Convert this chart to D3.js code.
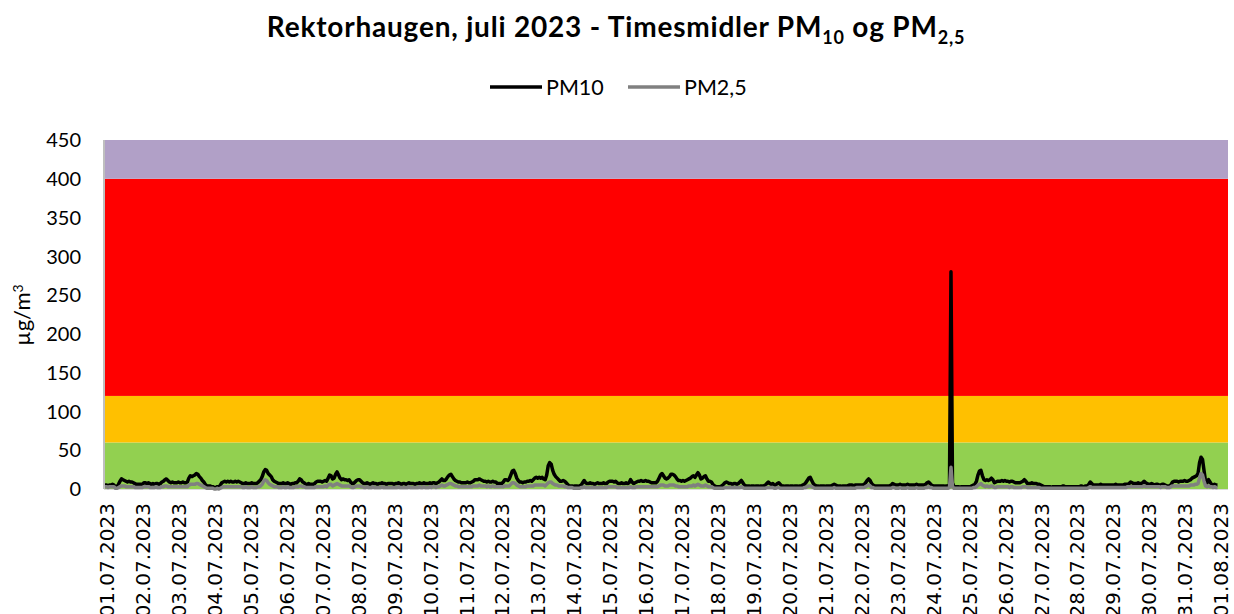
<!doctype html>
<html lang="no">
<head>
<meta charset="utf-8">
<script src="https://d3js.org/d3.v7.min.js"></script>
<title>Rektorhaugen juli 2023</title>
<style>
  body { margin: 0; background: #fff; }
  text { fill: #000; }
</style>
</head>
<body>
<svg id="chart" width="1234" height="614"></svg>
<script>
// dato-etiketter langs x-aksen (en per dogn)
var dayLabels = ["01.07.2023","02.07.2023","03.07.2023","04.07.2023","05.07.2023","06.07.2023","07.07.2023","08.07.2023",
  "09.07.2023","10.07.2023","11.07.2023","12.07.2023","13.07.2023","14.07.2023","15.07.2023","16.07.2023",
  "17.07.2023","18.07.2023","19.07.2023","20.07.2023","21.07.2023","22.07.2023","23.07.2023","24.07.2023",
  "25.07.2023","26.07.2023","27.07.2023","28.07.2023","29.07.2023","30.07.2023","31.07.2023","01.08.2023"];

var yTicks = [0,50,100,150,200,250,300,350,400,450];

// luftkvalitetsklasser (grenser og farger)
var bandLimits = [0,60,120,400,450];
var bandColors = ["#92D050","#FFC000","#FF0000","#B1A0C7"];

// timesmidler PM10, en rad per dogn (24 timer)
var pm10Days = [
  [5,5,4,5,5,6,5,3,3,6,10,13,12,11,10,9,10,9,9,8,7,6,6,6],
  [6,6,8,8,7,8,7,6,7,6,7,7,6,7,9,10,12,13,11,9,8,9,8,8],
  [8,9,8,8,9,8,8,9,14,17,16,17,18,20,19,16,14,11,9,6,4,4,4,3],
  [3,2,2,3,2,5,8,9,10,9,10,9,10,9,9,10,9,10,9,8,7,7,8,7],
  [7,7,8,7,7,7,8,10,12,16,22,25,24,20,18,16,12,10,9,8,7,7,7,8],
  [7,7,8,7,6,7,7,8,8,10,13,12,9,8,6,6,7,6,6,6,7,9,10,10],
  [10,9,10,11,10,14,18,17,13,14,19,22,18,14,12,13,12,12,11,12,9,7,7,9],
  [11,12,12,10,8,7,7,8,7,6,7,8,7,7,6,7,7,8,7,7,6,7,7,7],
  [7,6,7,7,8,7,6,7,7,6,7,8,7,7,7,6,7,7,8,7,7,8,7,7],
  [7,8,7,8,8,7,8,9,11,13,11,11,13,16,18,19,16,13,11,10,9,9,8,8],
  [8,8,9,8,8,9,10,12,12,12,13,12,11,10,10,9,10,9,9,10,9,9,7,7],
  [7,7,9,12,12,11,13,18,23,24,20,14,11,9,9,8,9,9,10,10,11,10,12,14],
  [15,14,15,14,15,13,12,18,30,34,32,24,19,16,14,12,10,10,11,10,8,6,4,4],
  [4,3,4,4,3,4,5,8,11,8,7,7,8,7,7,6,7,8,7,7,7,8,7,7],
  [9,10,10,10,9,10,8,7,7,8,7,7,8,7,8,12,9,7,8,9,10,10,11,10],
  [10,11,10,10,9,8,8,8,8,10,14,18,20,17,14,13,14,16,19,19,18,16,13,11],
  [11,10,11,10,11,12,13,14,16,17,15,18,21,18,13,14,16,17,13,10,10,9,6,4],
  [3,3,3,3,4,6,8,9,8,7,7,6,7,7,6,7,9,11,8,5,4,4,4,3],
  [4,4,3,4,4,3,4,4,4,5,7,9,7,6,7,5,5,7,8,6,4,4,3,4],
  [4,3,4,4,3,4,4,3,4,4,5,6,8,11,14,15,11,7,5,4,4,3,4,4],
  [4,3,4,4,4,4,5,6,5,4,4,4,3,4,4,4,4,5,5,5,4,5,5,5],
  [5,5,5,6,8,11,13,11,7,5,4,4,4,4,4,4,4,4,4,4,4,5,7,6],
  [5,5,5,6,5,5,5,5,6,5,5,5,5,5,6,5,5,5,5,5,6,8,9,7],
  [5,4,4,4,4,4,4,4,4,3,4,4,5,280,8,3,3,3,3,2,3,3,3,3],
  [3,3,3,4,5,6,10,18,23,24,17,12,11,12,11,12,14,12,8,9,10,10,10,11],
  [10,11,10,10,9,10,10,9,8,8,8,8,9,10,12,10,7,7,7,8,7,7,7,6],
  [6,5,4,3,3,3,3,3,2,3,3,3,3,3,3,3,4,3,3,3,3,3,3,3],
  [3,3,3,3,4,3,3,4,4,6,9,7,5,5,5,5,5,6,5,5,5,5,5,5],
  [5,5,5,6,5,5,5,5,5,6,6,6,7,9,8,7,7,7,8,7,7,8,10,8],
  [7,6,6,7,6,5,6,6,5,5,6,6,5,4,4,3,6,9,10,10,10,9,10,10],
  [10,11,10,10,11,12,14,15,16,17,20,34,41,38,24,10,8,12,9,6,5,6,5,5]
];

// timesmidler PM2,5
var pm25Days = [
  [3,3,2,3,3,3,3,1,1,2,3,4,4,4,3,3,3,3,3,3,2,2,2,2],
  [2,2,3,3,3,3,2,2,2,2,3,2,2,2,3,3,4,4,3,3,3,3,3,3],
  [3,3,3,3,3,3,3,3,5,6,6,6,6,7,7,6,5,4,3,2,1,1,1,1],
  [1,0,0,1,0,1,2,3,3,3,3,3,3,3,3,3,3,3,3,3,2,2,3,2],
  [2,2,3,2,2,2,3,3,4,6,10,12,11,8,6,5,4,3,3,3,2,2,2,3],
  [2,2,3,2,2,2,2,3,3,3,4,4,3,3,2,2,2,2,2,2,2,3,3,3],
  [3,3,3,4,3,5,6,6,4,5,6,7,6,5,4,4,4,4,4,4,3,2,2,3],
  [4,4,4,3,3,2,2,3,2,2,2,3,2,2,2,2,2,3,2,2,2,2,2,2],
  [2,2,2,2,3,2,2,2,2,2,2,3,2,2,2,2,2,2,3,2,2,3,2,2],
  [2,3,2,3,3,2,3,3,4,5,4,4,5,6,7,7,6,5,4,4,3,3,3,3],
  [3,3,3,3,3,3,4,4,4,4,5,4,4,4,4,3,4,3,3,4,3,3,3,3],
  [3,3,3,4,4,4,4,6,8,8,7,5,4,3,3,3,3,3,4,4,4,4,4,5],
  [5,5,5,5,5,5,4,6,8,9,9,7,6,5,5,4,4,4,4,3,3,2,2,2],
  [2,1,1,1,1,1,2,2,3,2,2,2,2,2,2,2,2,2,2,2,2,2,2,2],
  [3,3,3,3,3,3,2,2,2,2,2,2,2,2,2,3,2,2,2,3,3,3,3,3],
  [3,3,3,3,3,3,3,3,3,3,4,5,5,5,4,4,4,5,5,5,5,4,4,3],
  [3,3,3,3,3,3,4,4,4,5,4,5,6,5,4,4,4,5,4,3,3,3,2,1],
  [1,1,1,1,1,1,2,2,2,2,2,2,2,2,2,2,2,3,2,1,1,1,1,1],
  [1,1,1,1,1,1,1,1,1,1,2,2,2,2,2,1,1,2,2,1,1,1,1,1],
  [1,1,1,1,1,1,1,1,1,1,1,2,2,3,4,4,3,2,1,1,1,1,1,1],
  [1,1,1,1,1,1,1,2,1,1,1,1,1,1,1,1,1,1,1,1,1,1,2,2],
  [2,2,2,2,3,4,5,4,2,2,1,1,1,1,1,1,1,1,1,1,1,1,2,2],
  [1,1,1,2,1,1,1,1,2,1,1,1,1,1,2,1,1,1,1,1,2,2,3,2],
  [2,1,1,1,1,1,1,1,1,1,1,1,2,28,3,1,1,1,1,1,1,1,1,1],
  [1,1,1,1,2,2,3,5,6,7,5,4,3,4,3,3,4,3,2,2,3,3,3,3],
  [3,3,3,3,2,3,3,2,2,2,2,2,2,3,3,3,2,2,2,2,2,2,2,2],
  [2,1,1,1,1,1,1,1,1,1,1,1,1,1,1,1,1,1,1,1,1,1,1,1],
  [1,1,1,1,1,1,1,1,1,2,3,2,2,2,2,2,2,2,2,2,2,2,2,2],
  [2,2,2,2,2,2,2,2,2,2,2,3,3,3,3,3,3,3,3,3,3,3,4,3],
  [3,3,3,3,3,3,3,3,3,2,3,3,3,2,2,2,3,4,4,4,4,4,4,4],
  [4,4,4,4,4,5,5,5,6,6,7,14,20,18,10,4,3,4,3,3,2,3,2,2]
];

var pm10 = d3.merge(pm10Days);
var pm25 = d3.merge(pm25Days);

var svg = d3.select("#chart");
var plotLeft = 104, plotRight = 1228, plotTop = 140, plotBottom = 489;

var x = d3.scaleLinear().domain([0, 744]).range([105, 1219]);
var y = d3.scaleLinear().domain([0, 450]).range([plotBottom, plotTop]);

// fargebelter
svg.append("g").selectAll("rect")
  .data(bandColors)
  .enter().append("rect")
  .attr("x", plotLeft)
  .attr("width", plotRight - plotLeft)
  .attr("y", function(d, i) { return y(bandLimits[i+1]); })
  .attr("height", function(d, i) { return y(bandLimits[i]) - y(bandLimits[i+1]); })
  .attr("fill", function(d) { return d; });

// akselinjer
svg.append("line").attr("x1", plotLeft).attr("x2", plotLeft).attr("y1", plotTop).attr("y2", plotBottom)
  .attr("stroke", "#BFBFBF").attr("stroke-width", 2);
svg.append("line").attr("x1", plotLeft).attr("x2", plotRight).attr("y1", plotBottom + 0.5).attr("y2", plotBottom + 0.5)
  .attr("stroke", "#D9D9D9").attr("stroke-width", 1);

// y-akse
svg.append("g").selectAll("text")
  .data(yTicks)
  .enter().append("text")
  .attr("x", 81)
  .attr("y", function(d) { return y(d); })
  .attr("dy", "0.36em")
  .attr("text-anchor", "end")
  .style("font-family", "Lato, 'Open Sans', sans-serif")
  .style("font-size", "20px")
  .text(function(d) { return d; });

var ylab = svg.append("text")
  .attr("transform", "translate(30,315) rotate(-90)")
  .attr("text-anchor", "middle")
  .style("font-family", "Lato, 'Open Sans', sans-serif")
  .style("font-size", "22px");
ylab.append("tspan").text("µg/m");
ylab.append("tspan").attr("dy", "-0.5em").style("font-size", "14px").text("3");

// x-akse, roterte datoer (kuttes nederst som i originalen)
svg.append("g").selectAll("text")
  .data(dayLabels)
  .enter().append("text")
  .attr("transform", function(d, i) { return "translate(" + (x(i*24) + 2) + ",503) rotate(-90)"; })
  .attr("text-anchor", "end")
  .attr("dy", "0.36em")
  .style("font-family", "'DejaVu Sans', Verdana, sans-serif")
  .style("font-size", "20px")
  .text(function(d) { return d; });

// linjer
var line = d3.line()
  .x(function(d, i) { return x(i); })
  .y(function(d) { return y(d); });

svg.append("path").datum(pm10)
  .attr("d", line).attr("fill", "none")
  .attr("stroke", "#000").attr("stroke-width", 3.5).attr("stroke-linejoin", "round");
svg.append("path").datum(pm25)
  .attr("d", line).attr("fill", "none")
  .attr("stroke", "#808080").attr("stroke-width", 3.5).attr("stroke-linejoin", "round");

// tittel
var title = svg.append("text")
  .attr("x", 616).attr("y", 37)
  .attr("text-anchor", "middle")
  .style("font-family", "Lato, 'Open Sans', sans-serif")
  .style("font-weight", "bold")
  .style("font-size", "28px")
  .style("letter-spacing", "0.8px");
title.append("tspan").text("Rektorhaugen, juli 2023 - Timesmidler PM");
title.append("tspan").attr("dy", 7).style("font-size", "18px").text("10");
title.append("tspan").attr("dy", -7).text(" og PM");
title.append("tspan").attr("dy", 7).style("font-size", "18px").text("2,5");

// tegnforklaring
var legendItems = [
  {name: "PM10", color: "#000", x: 490},
  {name: "PM2,5", color: "#808080", x: 628}
];
var leg = svg.append("g").selectAll("g").data(legendItems).enter().append("g");
leg.append("line")
  .attr("x1", function(d) { return d.x; }).attr("x2", function(d) { return d.x + 52; })
  .attr("y1", 87).attr("y2", 87)
  .attr("stroke", function(d) { return d.color; }).attr("stroke-width", 3.5);
leg.append("text")
  .attr("x", function(d) { return d.x + 56; }).attr("y", 87).attr("dy", "0.36em")
  .style("font-family", "Lato, 'Open Sans', sans-serif")
  .style("font-size", "21.5px")
  .text(function(d) { return d.name; });
</script>
</body>
</html>
